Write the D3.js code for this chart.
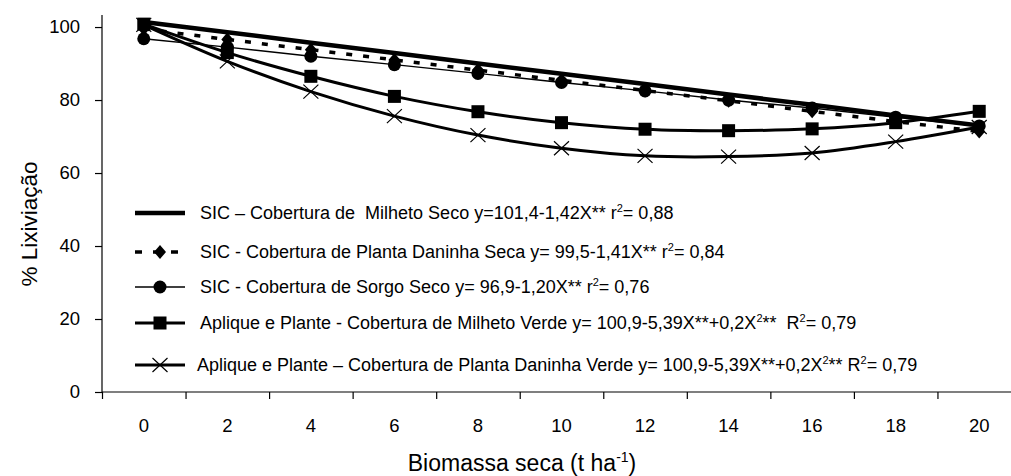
<!DOCTYPE html>
<html>
<head>
<meta charset="utf-8">
<script src="https://cdn.jsdelivr.net/npm/d3@7"></script>
<style>
body { margin: 0; background: #fff; }
svg { font-family: "Liberation Sans", Arial, sans-serif; }
</style>
</head>
<body>
<div id="chart"></div>
<script>
// categories (t ha-1)
const biomassa = ["0", "2", "4", "6", "8", "10", "12", "14", "16", "18", "20"];
// series values
const milhetoSeco = [101.4, 98.6, 95.7, 92.9, 90.0, 87.2, 84.4, 81.5, 78.7, 75.8, 73.0];
const daninhaSeca = [99.5, 96.6, 93.8, 91.0, 88.2, 85.4, 82.6, 79.8, 76.9, 74.1, 71.4];
const sorgoSeco = [96.8, 94.5, 92.0, 89.7, 87.3, 84.8, 82.5, 80.0, 77.8, 75.3, 72.9];
const milhetoVerde = [100.8, 93.0, 86.5, 81.0, 76.8, 73.8, 72.0, 71.6, 72.1, 73.8, 76.9];
const daninhaVerde = [100.6, 90.6, 82.3, 75.6, 70.4, 66.8, 64.7, 64.5, 65.5, 68.6, 72.6];
const yTicks = [0, 20, 40, 60, 80, 100];

// legend texts: [text, 1 = superscript]
const legendLabels = [
	[["SIC – Cobertura de  Milheto Seco y=101,4-1,42X** r"], ["2", 1], ["= 0,88"]],
	[["SIC - Cobertura de Planta Daninha Seca y= 99,5-1,41X** r"], ["2", 1], ["= 0,84"]],
	[["SIC - Cobertura de Sorgo Seco y= 96,9-1,20X** r"], ["2", 1], ["= 0,76"]],
	[["Aplique e Plante - Cobertura de Milheto Verde y= 100,9-5,39X**+0,2X"], ["2", 1], ["**  R"], ["2", 1], ["= 0,79"]],
	[["Aplique e Plante – Cobertura de Planta Daninha Verde y= 100,9-5,39X**+0,2X"], ["2", 1], ["** R"], ["2", 1], ["= 0,79"]]
];

const w = 1011, h = 476;
const svg = d3.select("#chart").append("svg")
	.attr("width", w).attr("height", h);

//Scales
const x = d3.scaleBand().domain(biomassa).range([102, 1021]).paddingInner(0).paddingOuter(0);
const xEdge = d3.scaleLinear().domain([0, biomassa.length]).range([102, 1021]);
const y = d3.scaleLinear().domain([0, 103.3]).range([392, 15]);
const cx = d => x(d) + x.bandwidth() / 2;

// Y axis
const yAxis = svg.append("g")
	.attr("transform", "translate(102,0)")
	.call(d3.axisLeft(y).tickValues(yTicks).tickSize(7).tickPadding(15));
yAxis.select(".domain").attr("d", "M0," + y.range()[1] + "V" + y.range()[0]).attr("stroke", "#000").attr("stroke-width", 1.2);
yAxis.selectAll(".tick line").attr("stroke", "#000").attr("stroke-width", 1.2);
yAxis.selectAll("text").attr("font-size", 18.5).attr("fill", "#000").attr("font-family", "Liberation Sans, Arial, sans-serif");

// X axis: tick marks between categories
const xTickG = svg.append("g")
	.attr("transform", "translate(0,392)")
	.call(d3.axisBottom(xEdge).tickValues(d3.range(0, biomassa.length)).tickSize(7).tickFormat(""));
xTickG.select(".domain").attr("d", "M102,0H" + w).attr("stroke", "#000").attr("stroke-width", 1.2);
xTickG.selectAll(".tick line").attr("stroke", "#000").attr("stroke-width", 1.2);

const xLab = svg.append("g")
	.attr("transform", "translate(0,392)")
	.call(d3.axisBottom(x).tickSize(0).tickPadding(0));
xLab.select(".domain").remove();
xLab.selectAll("text").attr("y", 40).attr("dy", 0)
	.attr("font-size", 18.5).attr("fill", "#000").attr("font-family", "Liberation Sans, Arial, sans-serif");

// Axis titles
svg.append("text")
	.attr("transform", "translate(37,224) rotate(-90)")
	.attr("text-anchor", "middle")
	.attr("font-size", 22.5)
	.text("% Lixiviação");

const xt = svg.append("text")
	.attr("x", 522).attr("y", 471)
	.attr("text-anchor", "middle")
	.attr("font-size", 23);
xt.append("tspan").text("Biomassa seca (t ha");
xt.append("tspan").attr("dy", -9).attr("font-size", 14).text("-1");
xt.append("tspan").attr("dy", 9).text(")");

// markers
const markers = {
	none: g => g,
	diamond: g => g.append("path").attr("d", "M0,-7L6,0L0,7L-6,0Z").attr("fill", "#000"),
	circle: g => g.append("circle").attr("r", 6.5).attr("fill", "#000"),
	square: g => g.append("rect").attr("x", -6.5).attr("y", -6.5).attr("width", 13).attr("height", 13).attr("fill", "#000"),
	cross: g => g.append("path").attr("d", "M-7.5,-7L7.5,7M-7.5,7L7.5,-7").attr("stroke", "#000").attr("stroke-width", 1.2).attr("fill", "none")
};

const series = [
	{ values: milhetoSeco, width: 4.5, dash: null, marker: "none", curve: d3.curveLinear },
	{ values: daninhaSeca, width: 3.5, dash: "6,11", marker: "diamond", curve: d3.curveLinear },
	{ values: sorgoSeco, width: 1.4, dash: null, marker: "circle", curve: d3.curveLinear },
	{ values: milhetoVerde, width: 3, dash: null, marker: "square", curve: d3.curveCatmullRom.alpha(0.5) },
	{ values: daninhaVerde, width: 3, dash: null, marker: "cross", curve: d3.curveCatmullRom.alpha(0.5) }
];

series.forEach(s => {
	const line = d3.line()
		.x((d, i) => cx(biomassa[i]))
		.y(d => y(d))
		.curve(s.curve);
	svg.append("path")
		.datum(s.values)
		.attr("d", line)
		.attr("fill", "none")
		.attr("stroke", "#000")
		.attr("stroke-width", s.width)
		.attr("stroke-dasharray", s.dash);
	svg.selectAll(null)
		.data(s.values)
		.enter().append("g")
		.attr("transform", (d, i) => "translate(" + cx(biomassa[i]) + "," + y(d) + ")")
		.each(function () { markers[s.marker](d3.select(this)); });
});

// Legend
const legendY = [213, 252, 287, 323, 365];
const legend = svg.selectAll(".legend")
	.data(series)
	.enter().append("g")
	.attr("class", "legend")
	.attr("transform", (d, i) => "translate(0," + legendY[i] + ")");

legend.append("line")
	.attr("x1", 135).attr("x2", 185)
	.attr("stroke", "#000")
	.attr("stroke-width", d => d.width)
	.attr("stroke-dasharray", d => d.dash ? "7,11" : null);

legend.append("g")
	.attr("transform", "translate(160,0)")
	.each(function (d) { markers[d.marker](d3.select(this)); });

legend.append("text")
	.attr("x", (d, i) => i === 4 ? 197 : 200)
	.attr("y", 6)
	.attr("font-size", 18)
	.style("white-space", "pre")
	.each(function (d, i) {
		const t = d3.select(this);
		let wasSup = false;
		legendLabels[i].forEach(seg => {
			const sup = seg[1] === 1;
			t.append("tspan")
				.attr("dy", sup ? -7 : (wasSup ? 7 : 0))
				.attr("font-size", sup ? 11 : null)
				.text(seg[0]);
			wasSup = sup;
		});
	});
</script>
</body>
</html>
